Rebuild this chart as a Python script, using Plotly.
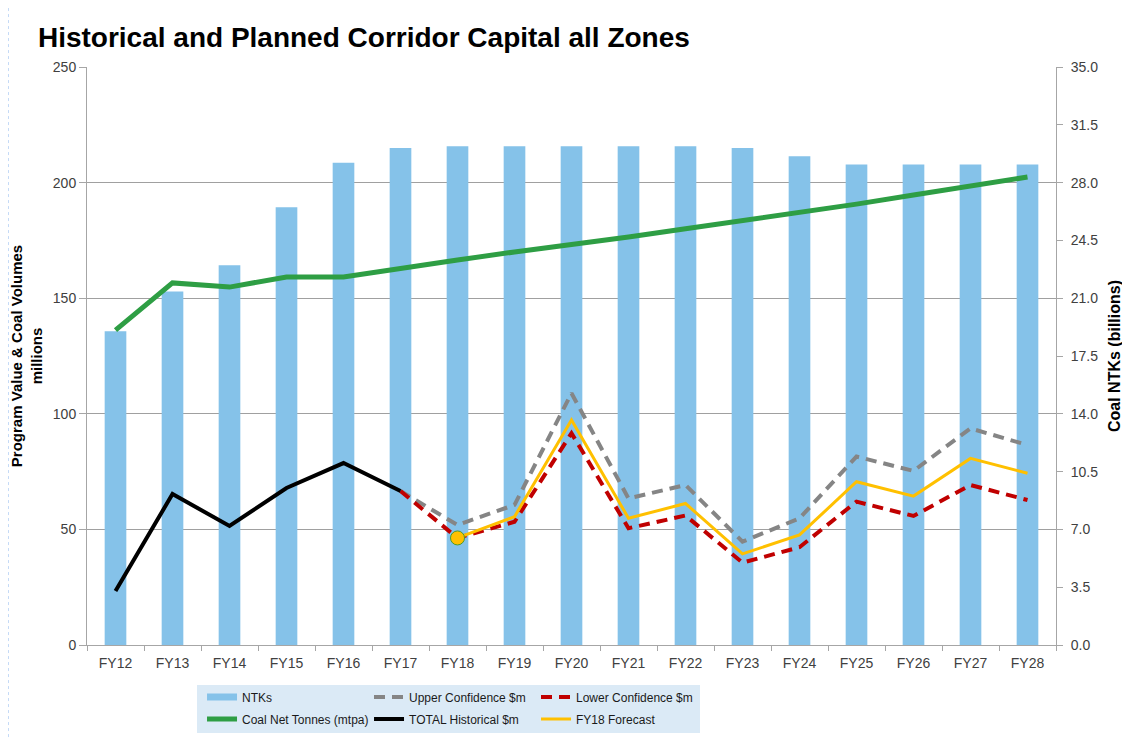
import plotly.graph_objects as go

years = ["FY12","FY13","FY14","FY15","FY16","FY17","FY18","FY19","FY20","FY21","FY22",
         "FY23","FY24","FY25","FY26","FY27","FY28"]
ntks = [19.0,21.4,23.0,26.5,29.2,30.1,30.2,30.2,30.2,30.2,30.2,30.1,29.6,29.1,29.1,29.1,29.1]
coal_tonnes = [136.2,156.6,154.8,159.2,159.2,163.0,166.5,170.0,173.0,176.5,180.0,183.4,
               187.3,190.7,194.6,198.5,202.4]
hist_years = years[:6]
total_hist = [23.4,65.3,51.5,67.9,78.7,66.6]
conf_years = years[5:]
upper_conf = [66.6,51.9,60.6,108.9,63.4,69.2,44.7,54.8,81.5,75.3,93.7,86.5]
lower_conf = [66.6,46.3,53.3,91.6,50.5,56.0,35.6,42.3,62.0,55.8,69.2,62.7]
fc_years = years[6:]
fy18_forecast = [46.3,55.5,97.3,54.8,61.2,39.4,47.6,70.6,64.4,80.7,74.3]

FONT = "Liberation Sans, Arial, sans-serif"
BAR_C = "#85c2e9"
DASH = "11px,7px"

fig = go.Figure()
fig.add_trace(go.Bar(x=years, y=ntks, name="NTKs", yaxis="y", showlegend=False,
                     marker=dict(color=BAR_C, line=dict(width=0)), width=0.38))
fig.add_trace(go.Scatter(x=years, y=coal_tonnes, yaxis="y2", name="Coal Net Tonnes (mtpa)",
                         mode="lines", line=dict(color="#2e9e44", width=5), legend="legend2",
                         legendrank=4))
fig.add_trace(go.Scatter(x=conf_years, y=upper_conf, yaxis="y2", name="Upper Confidence $m",
                         mode="lines", line=dict(color="#858585", width=4, dash=DASH),
                         legend="legend", legendrank=2))
fig.add_trace(go.Scatter(x=conf_years, y=lower_conf, yaxis="y2", name="Lower Confidence $m",
                         mode="lines", line=dict(color="#c00000", width=4, dash=DASH),
                         legend="legend", legendrank=3))
fig.add_trace(go.Scatter(x=fc_years, y=fy18_forecast, yaxis="y2", name="FY18 Forecast",
                         mode="lines", line=dict(color="#ffc000", width=3), legend="legend2",
                         legendrank=6))
fig.add_trace(go.Scatter(x=hist_years, y=total_hist, yaxis="y2", name="TOTAL Historical $m",
                         mode="lines", line=dict(color="#000000", width=4), legend="legend2",
                         legendrank=5))
fig.add_trace(go.Scatter(x=fc_years[:1], y=fy18_forecast[:1], yaxis="y2", mode="markers",
                         showlegend=False,
                         marker=dict(color="#ffc000", size=14, line=dict(color="#4c9a2a", width=1))))
fig.add_trace(go.Scatter(x=[None], y=[None], yaxis="y2", name="NTKs", mode="lines",
                         line=dict(color=BAR_C, width=7), legend="legend", legendrank=1))

legend_common = dict(orientation="h", xanchor="left", yanchor="middle",
                     bgcolor="rgba(0,0,0,0)", font=dict(size=12, color="#1a1a1a"),
                     entrywidth=122, itemwidth=30, traceorder="normal")

fig.update_layout(
    width=1130, height=738,
    margin=dict(l=79, r=82, t=59, b=101, autoexpand=False),
    paper_bgcolor="white", plot_bgcolor="white",
    font=dict(family=FONT, size=14, color="#404040"),
    title=dict(text="<b>Historical and Planned Corridor Capital all Zones</b>",
               font=dict(family=FONT, size=28, color="black"),
               xref="container", x=0.0265, xanchor="left", y=0.9607, yanchor="middle"),
    showlegend=True,
    legend=dict(x=0.1187, y=-0.090, **legend_common),
    legend2=dict(x=0.1187, y=-0.128, **legend_common),
    bargap=0.6,
    xaxis=dict(showgrid=False, showline=True, linecolor="#a6a6a6", ticks="outside",
               tickson="boundaries", tickcolor="#a6a6a6", ticklen=5, ticklabelstandoff=5,
               tickfont=dict(size=14, color="#404040"), automargin=False),
    yaxis=dict(range=[0,35], dtick=3.5, tickformat=".1f", side="right",
               showgrid=False, showline=True, linecolor="#a6a6a6", ticks="outside",
               tickcolor="#a6a6a6", ticklen=6, zeroline=False, ticklabelstandoff=5,
               tickfont=dict(size=14, color="#404040"), automargin=False,
               title=dict(text="<b>Coal NTKs (billions)</b>", font=dict(size=16, color="black"),
                          standoff=11)),
    yaxis2=dict(range=[0,250], dtick=50, overlaying="y", side="left",
                showgrid=True, gridcolor="#a0a0a0", gridwidth=1,
                showline=True, linecolor="#a6a6a6", ticks="outside", tickcolor="#a6a6a6",
                ticklen=7, zeroline=False, tickfont=dict(size=14, color="#404040"),
                automargin=False,
                title=dict(text="<b>Program Value & Coal Volumes<br>millions</b>",
                           font=dict(size=15, color="black"), standoff=10)),
    shapes=[
        dict(type="rect", xref="paper", yref="paper", x0=0.1135, x1=0.6326, y0=-0.0692,
             y1=-0.1522, fillcolor="#dbeaf6", line=dict(width=0), layer="below"),
        dict(type="line", xref="paper", yref="paper", x0=-0.0815, x1=-0.0815, y0=-0.18, y1=1.11,
             line=dict(color="#8fb8ee", width=1, dash="dot")),
    ],
)
fig.write_html("out.html")
